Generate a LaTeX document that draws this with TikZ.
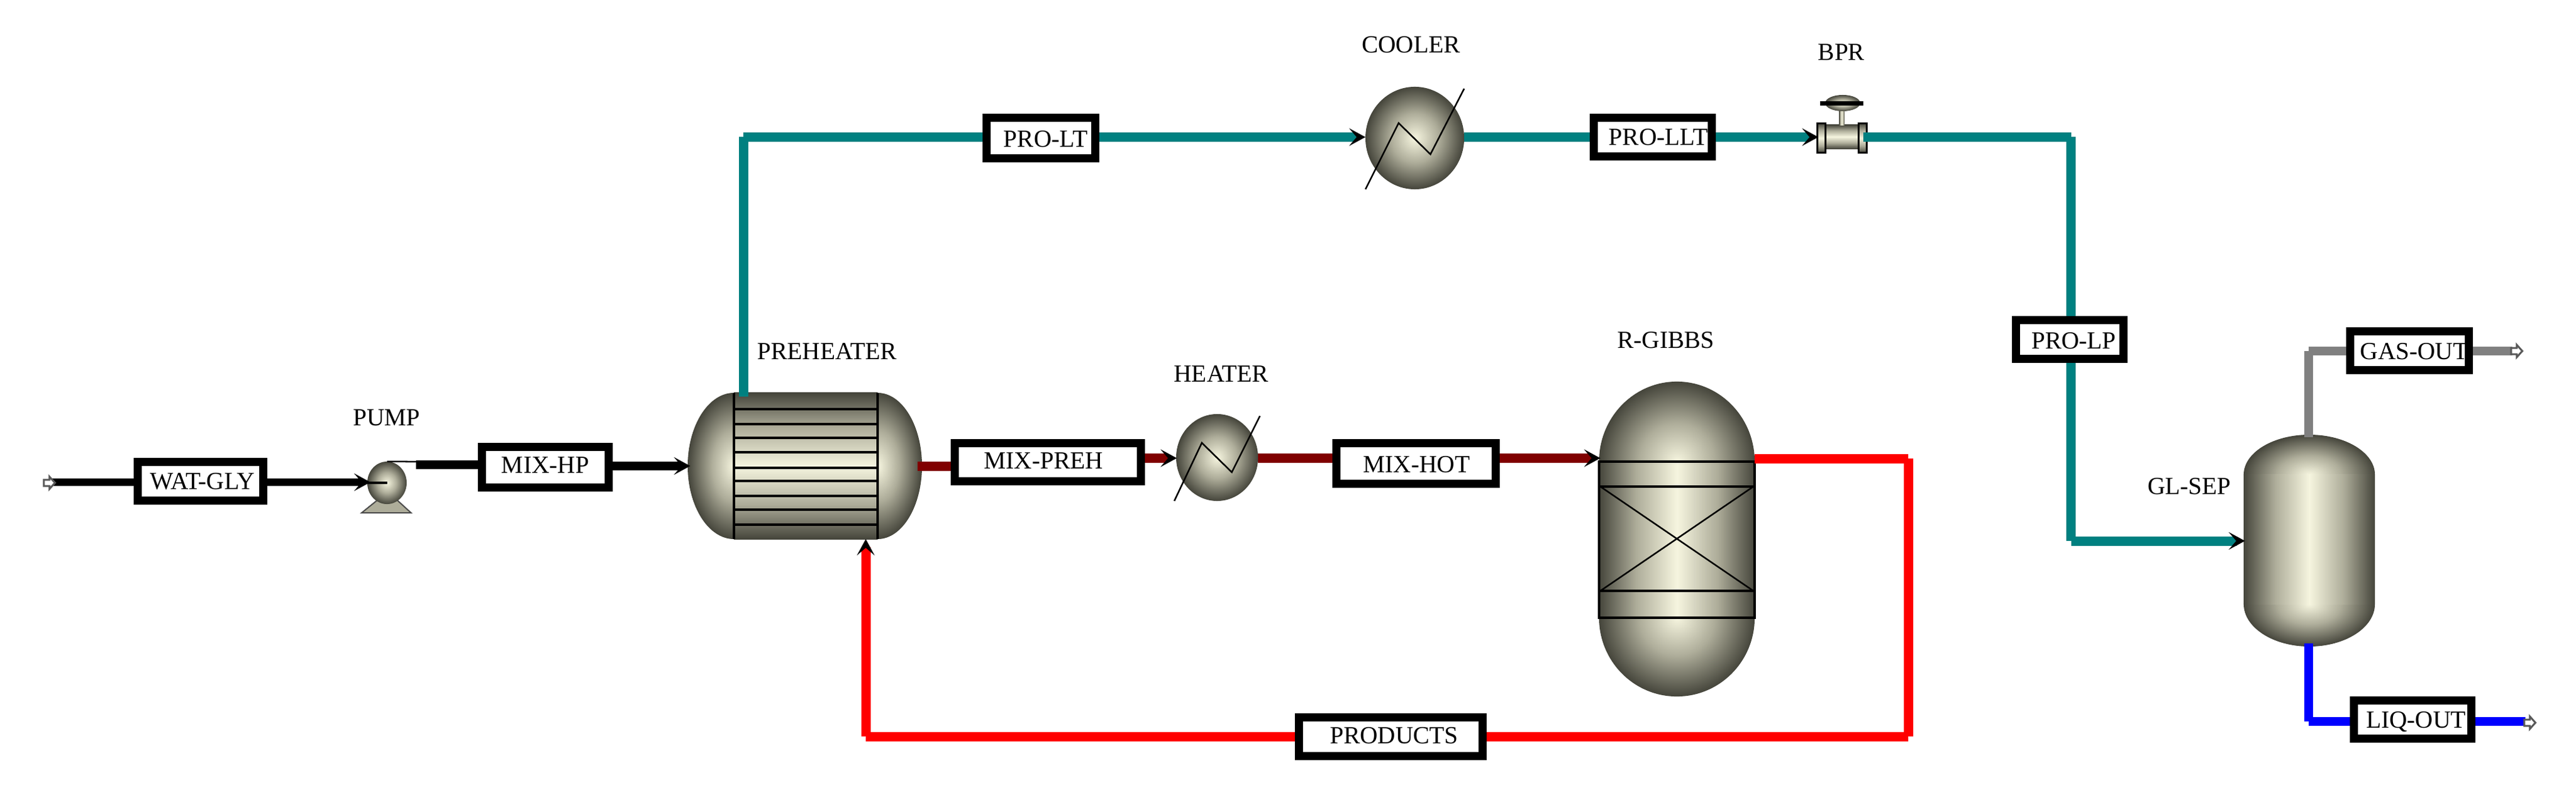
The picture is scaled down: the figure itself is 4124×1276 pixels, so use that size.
\documentclass[tikz,border=0pt]{standalone}
\usepackage{fontspec}
\setmainfont{Liberation Serif}
\usetikzlibrary{arrows.meta,shapes.geometric}
\newlength\pxu
\setlength\pxu{0.28453pt}
\definecolor{mlt}{HTML}{F6F5DF}
\definecolor{mmd}{HTML}{AEAD9A}
\definecolor{mdk}{HTML}{45453B}
\definecolor{tealc}{HTML}{008080}
\definecolor{darkr}{HTML}{800000}
\definecolor{grayc}{HTML}{808080}
\pgfdeclareradialshading{metalr}{\pgfpoint{0bp}{0bp}}{color(0bp)=(mlt); color(12bp)=(mmd); color(25bp)=(mdk); color(50bp)=(mdk)}
\pgfdeclarehorizontalshading{metalh}{100bp}{color(0bp)=(mdk); color(25bp)=(mdk); color(37bp)=(mmd); color(50bp)=(mlt); color(63bp)=(mmd); color(75bp)=(mdk); color(100bp)=(mdk)}
\pgfdeclareverticalshading{metalv}{100bp}{color(0bp)=(mdk); color(25bp)=(mdk); color(37bp)=(mmd); color(50bp)=(mlt); color(63bp)=(mmd); color(75bp)=(mdk); color(100bp)=(mdk)}
\pgfdeclarelayer{equip}
\pgfdeclarelayer{streams}
\pgfsetlayers{equip,streams,main}
\tikzset{
  every node/.style={font=\fontsize{11.2}{13}\selectfont,inner sep=0pt,outer sep=0pt},
  sz/.style 2 args={minimum width=#1*\pxu,minimum height=#2*\pxu},
  tagb/.style={rectangle,draw=black,fill=white,line width=13*\pxu},
  unitlbl/.style={text=black,text height=7.4pt,text depth=0pt},
  rvessel/.style={ellipse,shade,shading=metalr},
  hcyl/.style={rectangle,shade,shading=metalh},
  vcyl/.style={rectangle,shade,shading=metalv},
  thinl/.style={draw=black,line width=2.5*\pxu},
  rulel/.style={draw=black,line width=3.5*\pxu},
  strm/.style={line cap=butt,line join=miter,line width=14*\pxu},
  headtip/.style={-{Stealth[black,length=7.4pt,width=8pt,inset=3.4pt]}},
  openarr/.pic={\draw[line width=3*\pxu,draw=black!65,fill=white] (0,-5)--(9,-5)--(9,-10)--(18,0)--(9,10)--(9,5)--(0,5)--cycle;}
}
\newcommand\tagbox[8]{%
  \pgfmathsetlengthmacro\tdx{2*((#6)-((#2)+(#3))/2)*\pxu}%
  \pgfmathsetlengthmacro\tdy{(((#4)+(#5))/2-(#7)-13)*\pxu}%
  \node[tagb,minimum width={((#3)-(#2)-13)*\pxu},minimum height={((#5)-(#4)-13)*\pxu}] (#1) at ({((#2)+(#3))/2},{((#4)+(#5))/2}) {\makebox[0pt][c]{\hspace*{\tdx}\raisebox{\tdy}[0pt][0pt]{#8}}};%
}
\begin{document}
\begin{tikzpicture}[x=0.01cm,y=-0.01cm]
\useasboundingbox (0,0) rectangle (4124,1276);

% ---------- equipment ----------
\begin{pgfonlayer}{equip}
  % pump
  \path[fill=mmd,draw=black!70,line width=2*\pxu] (579,821)--(658,821)--(635,800)--(605,800)--cycle;
  \node[rvessel,sz={63}{68}] (pump) at (619.5,773) {};
  \draw[line width=4*\pxu,black] (pump.west) -- (pump.center);
  \draw[thinl] (pump.north) -- (666,739);
  % preheater
  \node[rvessel,sz={148}{234}] (preL) at (1175,746) {};
  \node[rvessel,sz={142}{234}] (preR) at (1405,746) {};
  \node[vcyl,sz={230}{234}] (pre) at (1290,746) {};
  \draw[rulel] (pre.north west) -- (pre.south west) (pre.north east) -- (pre.south east);
  \foreach \yy in {655,679,701,724,749,770,794,816,840}
    \draw[rulel] (1175,\yy) -- (1405,\yy);
  % heater
  \node[rvessel,sz={131}{139}] (heater) at (1948.5,732.5) {};
  \draw[thinl] (1880,802)--(1924,709)--(1972,756)--(2017,666);
  % cooler
  \node[rvessel,sz={158}{164}] (cooler) at (2265,221) {};
  \draw[thinl] (2186,303)--(2239,197)--(2290,247)--(2344,142);
  % valve
  \node[vcyl,sz={52}{38}] (valve) at (2949,219) {};
  \node[vcyl,draw=black,line width=3*\pxu,sz={13}{47}] (flangeL) at (2915.5,221) {};
  \node[vcyl,draw=black,line width=3*\pxu,sz={13}{47}] (flangeR) at (2982,221) {};
  \node[hcyl,sz={9}{22}] (stem) at (2948.5,189) {};
  \node[rvessel,sz={56}{26}] (dome) at (2950,165) {};
  \fill[black] (2914,162) rectangle (2983,169);
  % reactor
  \node[rvessel,sz={249}{256}] (rgTop) at (2684.5,739) {};
  \node[rvessel,sz={249}{252}] (rgBot) at (2684.5,989) {};
  \node[hcyl,sz={249}{250}] (rg) at (2684.5,864) {};
  \draw[rulel] (rg.north west) rectangle (rg.south east);
  \draw[rulel] (2560,779) -- (2809,779) (2560,946) -- (2809,946);
  \draw[thinl] (2562,779) -- (2807,946) (2562,946) -- (2807,779);
  % separator
  \node[rvessel,sz={210}{128}] (sepTop) at (3697,760) {};
  \node[rvessel,sz={210}{136}] (sepBot) at (3697,967) {};
  \node[hcyl,sz={210}{207}] (sep) at (3697,863.5) {};
\end{pgfonlayer}

% ---------- equipment labels ----------
\node[unitlbl] (lblPump) at (619,668) {PUMP};
\node[unitlbl] (lblPre) at (1324,562) {PREHEATER};
\node[unitlbl] (lblHeater) at (1955,598) {HEATER};
\node[unitlbl] (lblCooler) at (2259,71) {COOLER};
\node[unitlbl] (lblBpr) at (2948,83) {BPR};
\node[unitlbl] (lblGibbs) at (2667,544) {R-GIBBS};
\node[unitlbl] (lblSep) at (3505,778) {GL-SEP};

% ---------- stream tags ----------
\tagbox{tWat}{214}{428}{733}{808}{324}{770}{WAT-GLY}
\tagbox{tHp}{765}{981}{709}{787}{873}{744}{MIX-HP}
\tagbox{tLt}{1573}{1760}{182}{260}{1674}{222}{PRO-LT}
\tagbox{tPreh}{1522}{1833}{703}{777}{1671}{737}{MIX-PREH}
\tagbox{tLlt}{2545}{2747}{182}{257}{2655}{219}{PRO-LLT}
\tagbox{tHot}{2133}{2401}{703}{781}{2268}{743}{MIX-HOT}
\tagbox{tProd}{2073}{2380}{1142}{1217}{2232}{1177}{PRODUCTS}
\tagbox{tLp}{3221}{3406}{506}{581}{3320}{545}{PRO-LP}
\tagbox{tGas}{3756}{3959}{524}{599}{3865}{562}{GAS-OUT}
\tagbox{tLiq}{3762}{3963}{1115}{1189}{3868}{1152}{LIQ-OUT}

% ---------- free ends and corners ----------
\coordinate (feed) at (84,772);
\coordinate (pumpIn) at (593,772);
\coordinate (pumpOut) at (666,744);
\coordinate (preIn) at (1105,746);
\coordinate (preTop) at (1190,635);
\coordinate (cTL) at (1190,219.5);
\coordinate (preOut) at (1469,746.5);
\coordinate (heatIn) at (1884,733.5);
\coordinate (rgIn) at (2562,733.5);
\coordinate (valveIn) at (2911,219.5);
\coordinate (valveOut) at (2983,219.5);
\coordinate (cTR) at (3315.5,219.5);
\coordinate (cBL) at (3315.5,866);
\coordinate (sepIn) at (3594,866);
\coordinate (gasUp) at (3696,700);
\coordinate (cGas) at (3696,562);
\coordinate (gasEnd) at (4022,562);
\coordinate (liqDn) at (3696,1030);
\coordinate (cLiq) at (3696,1155);
\coordinate (liqEnd) at (4043,1155);
\coordinate (rgOut) at (2809,734);
\coordinate (cR1) at (3055,734);
\coordinate (cR2) at (3055,1179);
\coordinate (cR3) at (1386,1179);
\coordinate (preBot) at (1386,863);

% ---------- streams ----------
\begin{pgfonlayer}{streams}
  % black
  \draw[strm,black,line width=12*\pxu] (feed) -- (tWat.west |- feed);
  \draw[strm,black,line width=12*\pxu,headtip] (tWat.east |- pumpIn) -- (pumpIn);
  \draw[strm,black] (pumpOut) -- (tHp.west |- pumpOut);
  \draw[strm,black,headtip] (tHp.east |- preIn) -- (preIn);
  % teal
  \draw[strm,tealc,line width=15*\pxu] (preTop) -- (cTL) (cTL) -- (tLt.west |- cTL);
  \draw[strm,tealc,line width=15*\pxu,headtip] (tLt.east |- cTL) -- (cooler.west |- cTL);
  \draw[strm,tealc,line width=15*\pxu] (cooler.east |- cTL) -- (tLlt.west |- cTL);
  \draw[strm,tealc,line width=15*\pxu,headtip] (tLlt.east |- cTL) -- (valveIn);
  \draw[strm,tealc,line width=15*\pxu] (valveOut) -- (cTR) (cTR) -- (cTR |- tLp.north);
  \draw[strm,tealc,line width=15*\pxu] (cBL |- tLp.south) -- (cBL);
  \draw[strm,tealc,line width=15*\pxu,headtip] (cBL) -- (sepIn);
  % dark red
  \draw[strm,darkr,line width=15*\pxu] (preOut) -- (tPreh.west |- preOut);
  \draw[strm,darkr,line width=15*\pxu,headtip] (tPreh.east |- heatIn) -- (heatIn);
  \draw[strm,darkr,line width=15*\pxu] (heater.east |- heatIn) -- (tHot.west |- heatIn);
  \draw[strm,darkr,line width=15*\pxu,headtip] (tHot.east |- heatIn) -- (rgIn);
  % red
  \draw[strm,red,line width=15*\pxu] (rgOut) -- (cR1) (cR1) -- (cR2) (cR2) -- (tProd.east |- cR2);
  \draw[strm,red,line width=15*\pxu] (tProd.west |- cR3) -- (cR3);
  \draw[strm,red,line width=15*\pxu,headtip] (cR3) -- (preBot);
  % gray
  \draw[strm,grayc] (gasUp) -- (cGas) (cGas) -- (tGas.west |- cGas);
  \draw[strm,grayc] (tGas.east |- cGas) -- (gasEnd);
  % blue
  \draw[strm,blue] (liqDn) -- (cLiq) (cLiq) -- (tLiq.west |- cLiq);
  \draw[strm,blue] (tLiq.east |- cLiq) -- (liqEnd);
\end{pgfonlayer}

% ---------- open port arrows ----------
\pic at (70,773) {openarr};
\pic at (4020,562) {openarr};
\pic at (4041,1157) {openarr};
\end{tikzpicture}
\end{document}
